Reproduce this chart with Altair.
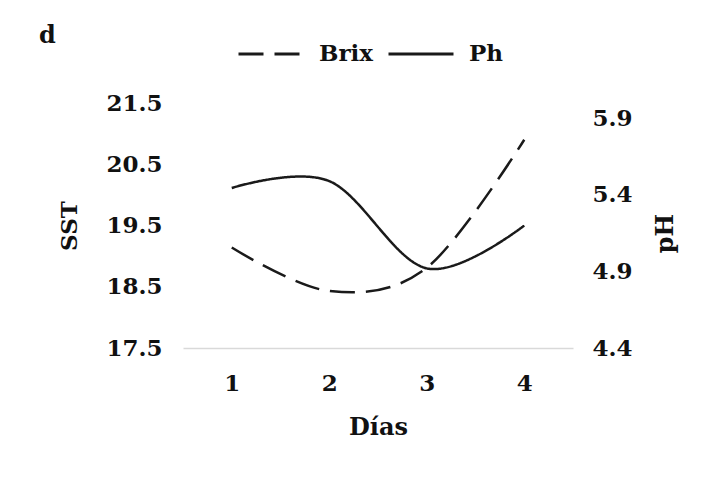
import altair as alt
import pandas as pd

days = ["1", "2", "3", "4"]
brix = [19.14, 18.43, 18.81, 20.90]
ph = [5.445, 5.49, 4.92, 5.20]
series = ["Brix", "Ph"]
sst_ticks = [17.5, 18.5, 19.5, 20.5, 21.5]
ph_ticks = [4.4, 4.9, 5.4, 5.9]

df_b = pd.DataFrame({"Día": days, "valor": brix, "serie": [series[0]] * len(days)})
df_p = pd.DataFrame({"Día": days, "valor": ph, "serie": [series[1]] * len(days)})

FONT = "DejaVu Serif"
INK = "#1a1a1a"

x = alt.X(
    "Día:O",
    title="Días",
    scale=alt.Scale(type="point", padding=0.5),
    axis=alt.Axis(
        labelAngle=0, ticks=False, grid=False, domainColor="#d9d9d9", domainWidth=1.5,
        labelPadding=24, titlePadding=20, labelFont=FONT, labelFontSize=23,
        labelFontWeight="bold", labelColor="#111", titleFont=FONT, titleFontSize=24,
        titleFontWeight="bold", titleColor="#111",
    ),
)

dash = alt.StrokeDash(
    "serie:N",
    scale=alt.Scale(domain=series, range=[[25, 11], [1, 0]]),
    legend=alt.Legend(
        title=None, orient="none", legendX=54, legendY=-83, direction="horizontal",
        symbolType="stroke", symbolSize=4225, symbolStrokeWidth=3,
        symbolStrokeColor=INK, labelFont=FONT, labelFontSize=23, labelFontWeight="bold",
        labelColor="#111", labelOffset=14, columnPadding=8,
    ),
)

left = alt.Chart(df_b).mark_line(interpolate="cardinal", strokeWidth=2.5, color=INK).encode(
    x=x,
    y=alt.Y(
        "valor:Q", title="SST",
        scale=alt.Scale(domain=[17.5, 21.5], nice=False, zero=False),
        axis=alt.Axis(
            values=sst_ticks, format=".1f", domain=False, ticks=False, grid=False,
            labelPadding=21, titlePadding=24, labelFont=FONT, labelFontSize=23,
            labelFontWeight="bold", labelColor="#111", titleFont=FONT, titleFontSize=23,
            titleFontWeight="bold", titleColor="#111",
        ),
    ),
    strokeDash=dash,
)

right = alt.Chart(df_p).mark_line(interpolate="cardinal", strokeWidth=2.5, color=INK).encode(
    x=x,
    y=alt.Y(
        "valor:Q", title="pH",
        scale=alt.Scale(domain=[4.4, 6.0], nice=False, zero=False),
        axis=alt.Axis(
            orient="right", values=ph_ticks, format=".1f", domain=False, ticks=False,
            grid=False, labelPadding=19, titlePadding=45, titleAngle=270, titleY=130,
            labelFont=FONT, labelFontSize=23, labelFontWeight="bold", labelColor="#111",
            titleFont=FONT, titleFontSize=24, titleFontWeight="bold", titleColor="#111",
        ),
    ),
    strokeDash=dash,
)

chart = (
    alt.layer(left, right)
    .resolve_scale(y="independent")
    .properties(
        width=390, height=245, autosize="none",
        padding={"left": 175, "top": 95, "right": 130, "bottom": 110},
        title=alt.TitleParams(
            "d", anchor="start", frame="group", font=FONT, fontSize=24, fontWeight="bold",
            color="#111", dx=-144, dy=28, offset=0,
        ),
    )
    .configure(background="white")
    .configure_view(strokeWidth=0, stroke=None)
)

chart.save("out.html", embed_options={"renderer": "svg", "actions": False})
